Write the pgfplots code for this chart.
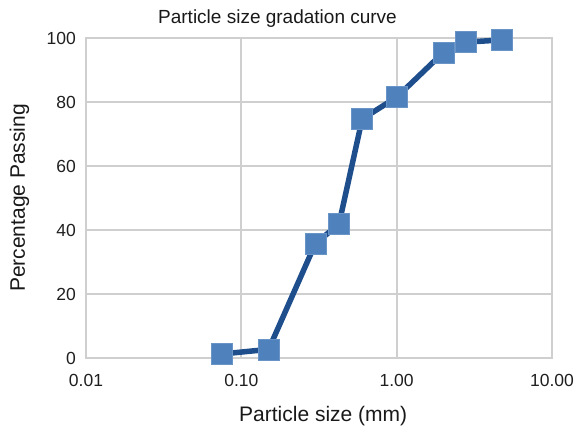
\documentclass[border=0pt]{standalone}
\usepackage{fontspec}
\setmainfont{Liberation Sans}
\usepackage{pgfplots}
\pgfplotsset{compat=1.18}
\definecolor{gridgray}{HTML}{CFCFCF}
\definecolor{lineblue}{HTML}{1F4E8D}
\definecolor{markblue}{HTML}{4F81BD}
\begin{document}
\begin{tikzpicture}
\useasboundingbox (0,0) rectangle (581pt,427pt);
\begin{axis}[
  at={(86pt,69pt)}, anchor=south west,
  scale only axis, width=466pt, height=320pt,
  xmode=log, xmin=0.01, xmax=10,
  ymin=0, ymax=100,
  xtick={0.01,0.1,1,10},
  xticklabels={0.01,0.10,1.00,10.00},
  ytick={0,20,40,60,80,100},
  minor xtick={}, 
  log ticks with fixed point,
  /pgf/number format/assume math mode=true,
  tick style={draw=none},
  major tick length=0pt,
  grid=major,
  grid style={gridgray, line width=2pt},
  axis line style={gridgray, line width=2pt},
  ticklabel style={font=\fontsize{17.5}{20}\selectfont, text=black!88},
  xticklabel style={anchor=base, yshift=-29pt, inner sep=0pt},
  yticklabel style={anchor=east, xshift=-10pt, inner sep=0pt},
  title={Particle size gradation curve},
  title style={font=\fontsize{19}{22}\selectfont, text=black!90, at={(axis description cs:0.411,1.025)}, anchor=base, inner sep=0pt},
  xlabel={Particle size (mm)},
  xlabel style={font=\fontsize{21}{24}\selectfont, text=black!90, at={(axis description cs:0.509,-0.2)}, anchor=base, inner sep=0pt},
  ylabel={Percentage Passing},
  ylabel style={font=\fontsize{21}{24}\selectfont, text=black!90, at={(axis description cs:-0.131,0.5)}, anchor=base, rotate=0, inner sep=0pt},
]
\addplot[lineblue, line width=5.5pt, mark=square*, mark size=10.5pt,
  mark options={fill=markblue, draw=markblue!85!white, line width=0.6pt}]
  coordinates {
  (0.075,1.25) (0.15,2.7) (0.3,35.8) (0.425,41.8) (0.6,74.7)
  (1.0,81.5) (2.0,95.5) (2.8,98.7) (4.75,99.4)
  };
\end{axis}
\end{tikzpicture}
\end{document}
